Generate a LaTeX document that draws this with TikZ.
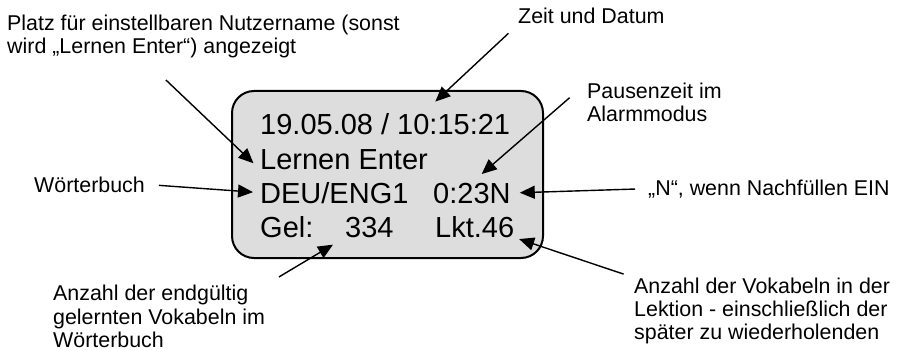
\documentclass[tikz,border=0pt]{standalone}
\usepackage{fontspec}
\setmainfont{Liberation Sans}
\usetikzlibrary{arrows.meta}
\definecolor{lcdgrau}{RGB}{221,221,221}

\begin{document}
\begin{tikzpicture}[
  x=1pt, y=-1pt,
  >={Triangle[length=15pt,width=13pt]},
  display/.style={
    draw=black,
    fill=lcdgrau,
    line width=2pt,
    rounded corners=22pt,
    minimum width=311pt,
    minimum height=167pt,
    inner sep=0pt
  },
  feld/.style={anchor=base west, inner sep=0pt, font=\fontsize{29}{34}\selectfont},
  hinweis/.style={anchor=base west, inner sep=0pt, align=left, font=\fontsize{21.4}{23.3}\selectfont},
  arrow/.style={->, line width=1.4pt, draw=black}
]
\useasboundingbox (0,0) rectangle (904,350);

\node[display] (lcd) at (387.5,174.5) {};

% anzeige
\node[feld] (datum) at (260,135) {19.05.08 /};
\node[feld] (uhrzeit) at (397,135) {10:15:21};
\node[feld] (nutzer) at (260,169) {Lernen Enter};
\node[feld] (woerterbuch) at (260,203) {DEU/ENG1};
\node[feld] (pause) at (433,203) {0:23N};
\node[feld] (gel) at (260,237) {Gel:};
\node[feld] (gelernt) at (345,237) {334};
\node[feld] (lektion) at (435,237) {Lkt.46};

% hinweise (base = letzte zeile)
\node[hinweis] (platz) at (7,54)
  {Platz für einstellbaren Nutzername (sonst\\wird „Lernen Enter“) angezeigt};
\node[hinweis] (zeit) at (518,24) {Zeit und Datum};
\node[hinweis] (pausentext) at (587,121.6) {Pausenzeit im\\Alarmmodus};
\node[hinweis] (wb) at (34,192) {Wörterbuch};
\node[hinweis] (nachf) at (648,195) {„N“, wenn Nachfüllen EIN};
\node[hinweis] (endg) at (53,347.5)
  {Anzahl der endgültig\\gelernten Vokabeln im\\Wörterbuch};
\node[hinweis] (vokab) at (634,339.9)
  {Anzahl der Vokabeln in der\\Lektion - einschließlich der\\später zu wiederholenden};

\draw[arrow, shorten <=31pt, shorten >=9pt] (platz.200) -- (nutzer.south west);
\draw[arrow, shorten <=13pt, shorten >=19pt] (zeit.south west) -- (uhrzeit.162);
\draw[arrow, shorten <=23pt, shorten >=13pt] (pausentext.north west) -- (pause.north);
\draw[arrow, shorten <=13pt, shorten >=9pt] (nachf.west) -- (pause.east);
\draw[arrow, shorten <=14pt, shorten >=7pt] (wb.east) -- (woerterbuch.west);
\draw[arrow, shorten <=11pt, shorten >=5pt] (vokab.north west) -- (lektion.south east);
\draw[arrow, shorten <=16pt, shorten >=14pt] (endg.north east) -- (gelernt.south west);

\end{tikzpicture}
\end{document}
